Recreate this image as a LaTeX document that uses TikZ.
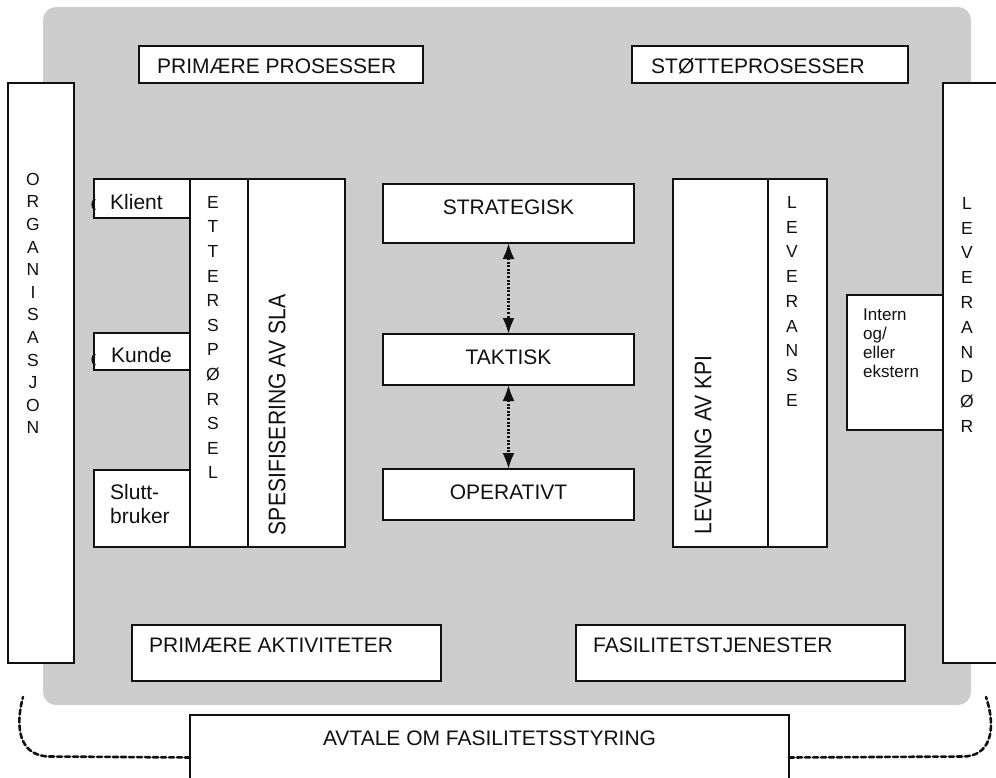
\documentclass[tikz,border=0pt]{standalone}
\usepackage{fontspec}
\setmainfont{Liberation Sans}
\usetikzlibrary{arrows.meta}
\definecolor{panel}{HTML}{CDCDCD}
\definecolor{ink}{HTML}{111111}

\tikzset{
  box/.style={draw=ink, line width=1.6pt, fill=white, inner sep=0pt, outer sep=0pt, anchor=north west},
  title/.style={inner sep=0pt, text=ink, font=\fontsize{21}{24}\selectfont},
  small/.style={inner sep=0pt, text=ink, font=\fontsize{17}{19}\selectfont, anchor=base west},
  letter/.style={inner sep=0pt, text=ink, font=\fontsize{17.5}{20}\selectfont, anchor=base},
  rottext/.style={inner sep=0pt, text=ink, font=\fontsize{24}{26}\selectfont, rotate=90},
  link/.style={ink, line width=2.2pt, dash pattern=on 2pt off 1.6pt,
    {Latex[length=16pt,width=12pt]}-{Latex[length=16pt,width=12pt]}},
  loopline/.style={ink, line width=2.6pt, dash pattern=on 5pt off 3pt, line cap=round},
  tick/.style={ink, line width=2pt}
}

% column of single letters: x, centre of first letter, spacing, name, letters
\newcommand\vletters[5]{%
  \foreach \c [count=\i from 0] in {#5}
    \node[letter] (#4-\i) at (#1, #2+6.3+\i*#3) {\c};%
}

\begin{document}
\begin{tikzpicture}[x=1pt, y=-1pt]
\useasboundingbox (0,0) rectangle (996,778);
\clip (0,0) rectangle (996,778);

% grey panel
\fill[panel, rounded corners=13pt] (43,7) rectangle (971,705);

% outer side boxes
\node[box, minimum width=66pt, minimum height=580pt] (org) at (8,83) {};
\node[box, minimum width=80pt, minimum height=580pt] (lev) at (943,83) {};

% headers and footers
\node[box, minimum width=284pt, minimum height=37pt] (pp) at (139,46) {};
\node[box, minimum width=276pt, minimum height=37pt] (sp) at (632,46) {};
\node[box, minimum width=309pt, minimum height=56pt] (pa) at (132,625) {};
\node[box, minimum width=329pt, minimum height=56pt] (fs) at (576,625) {};
\node[box, minimum width=599pt, minimum height=85pt] (avt) at (190,715) {};

% demand side
\node[box, minimum width=96pt, minimum height=39pt] (kli) at (94,179) {};
\node[box, minimum width=96pt, minimum height=37pt] (kun) at (94,333) {};
\node[box, minimum width=96pt, minimum height=77pt] (slu) at (94,470) {};
\node[box, minimum width=58pt, minimum height=368pt] (ett) at (190,179) {};
\node[box, minimum width=97pt, minimum height=368pt] (spe) at (248,179) {};

% levels
\node[box, minimum width=251pt, minimum height=59pt] (str) at (383,184) {};
\node[box, minimum width=251pt, minimum height=51pt] (tak) at (383,334) {};
\node[box, minimum width=251pt, minimum height=51pt] (ope) at (383,469) {};

% supply side
\node[box, minimum width=95pt, minimum height=368pt] (kpi) at (673,179) {};
\node[box, minimum width=59pt, minimum height=368pt] (lvr) at (768,179) {};
\node[box, minimum width=96pt, minimum height=135pt] (int) at (847,295) {};

% texts
\node[title, anchor=base west] (pp-t) at (157,74) {PRIMÆRE PROSESSER};
\node[title, anchor=base west] (sp-t) at (651,74) {STØTTEPROSESSER};
\node[title, anchor=base west] (pa-t) at (149,652) {PRIMÆRE AKTIVITETER};
\node[title, anchor=base west] (fs-t) at (593,652) {FASILITETSTJENESTER};
\node[title, anchor=base] (avt-t) at (489.5,745.5) {AVTALE OM FASILITETSSTYRING};
\node[title, anchor=base] (str-t) at (508.5,214.5) {STRATEGISK};
\node[title, anchor=base] (tak-t) at (508.5,364.5) {TAKTISK};
\node[title, anchor=base] (ope-t) at (508.5,499.5) {OPERATIVT};
\node[title, anchor=base west] (kli-t) at (110,209.5) {Klient};
\node[title, anchor=base west] (kun-t) at (111,362.5) {Kunde};
\node[title, anchor=base west] (slu-t1) at (110,499.5) {Slutt-};
\node[title, anchor=base west] (slu-t2) at (110,523.5) {bruker};

\node[small] (int-t1) at (863,320) {Intern};
\node[small] (int-t2) at (863,339) {og/};
\node[small] (int-t3) at (863,358) {eller};
\node[small] (int-t4) at (863,377) {ekstern};

\node[rottext] (spe-t) at (277,415) {\scalebox{0.88}[1]{SPESIFISERING AV SLA}};
\node[rottext] (kpi-t) at (703,445) {\scalebox{0.88}[1]{LEVERING AV KPI}};

\vletters{33}{179}{22.6}{org}{O,R,G,A,N,I,S,A,S,J,O,N}
\vletters{213}{202}{24.6}{ett}{E,T,T,E,R,S,P,Ø,R,S,E,L}
\vletters{792}{202}{24.75}{lvr}{L,E,V,E,R,A,N,S,E}
\vletters{967}{203}{24.8}{lev}{L,E,V,E,R,A,N,D,Ø,R}

% small marks on the left edge of Klient and Kunde
\draw[tick] (95,199) .. controls (91.5,202) and (91.5,207) .. (95,210);
\draw[tick] (95,354) .. controls (91.5,357) and (91.5,362) .. (95,365);

% links between the levels
\draw[link] (str.south) -- (tak.north);
\draw[link] (tak.south) -- (ope.north);

% agreement loop
\coordinate (lend) at (23,697);
\coordinate (rend) at (986,697);
\draw[loopline] (avt.west) -- (50,756.5) .. controls (24,756.5) and (13,735) .. (lend);
\draw[loopline] (avt.east) -- (963,756.5) .. controls (990,756.5) and (997,730) .. (rend);
\end{tikzpicture}
\end{document}
